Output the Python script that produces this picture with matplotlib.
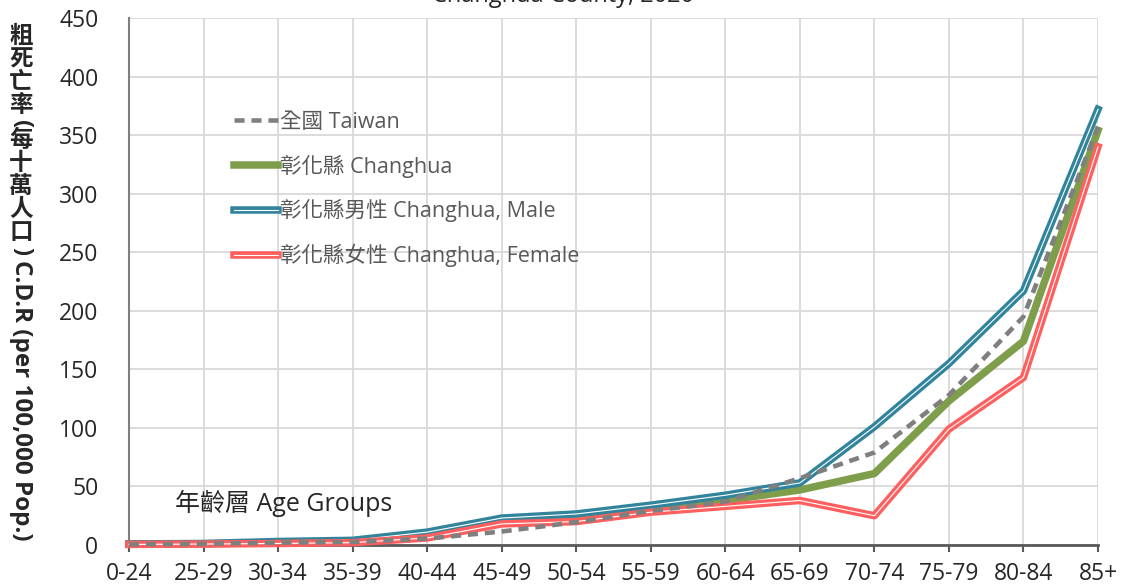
import numpy as np
import matplotlib
matplotlib.use('Agg')
import matplotlib.pyplot as plt
import matplotlib.patheffects as pe

plt.rcParams['font.family'] = ['Open Sans', 'Noto Sans CJK TC', 'DejaVu Sans']

# data
age_groups = ['0-24', '25-29', '30-34', '35-39', '40-44', '45-49', '50-54',
              '55-59', '60-64', '65-69', '70-74', '75-79', '80-84', '85+']
taiwan = [0.5, 1.0, 2.0, 2.5, 5.5, 11.5, 19.5, 29, 37, 57, 79, 128, 195, 357]
changhua = [0.7, 1.0, 2.0, 3.0, 7.5, 20, 23, 31, 38, 47, 61, 123, 174, 354]
male = [0.9, 1.3, 3.0, 4.0, 11, 23, 26.5, 34, 42.5, 53, 101, 155, 217, 372]
female = [0.5, 0.8, 1.3, 2.0, 6.0, 18, 20, 28, 33, 38, 25, 99, 143, 340]

labels = ['全國 Taiwan', '彰化縣 Changhua', '彰化縣男性 Changhua, Male', '彰化縣女性 Changhua, Female']
title = 'Changhua County, 2020'

W, H = 1125, 588
fig = plt.figure(figsize=(W / 100, H / 100), dpi=100)
ax = fig.add_axes([129 / W, 1 - 545 / H, (1098 - 129) / W, (545 - 18) / H])

x = np.arange(len(age_groups))

c_tw = '#7F7F7F'
c_ch = '#7F9E4B'
c_m = '#31849B'
c_f = '#FF5F5F'

l_ch, = ax.plot(x, changhua, color=c_ch, lw=5.4, zorder=3, clip_on=False, label=labels[1])
l_m, = ax.plot(x, male, color='white', lw=0.8, zorder=4, clip_on=False, label=labels[2],
               path_effects=[pe.Stroke(linewidth=5.4, foreground=c_m), pe.Normal()])
l_f, = ax.plot(x, female, color='white', lw=0.8, zorder=5, clip_on=False, label=labels[3],
               path_effects=[pe.Stroke(linewidth=5.4, foreground=c_f), pe.Normal()])
l_tw, = ax.plot(x, taiwan, color=c_tw, lw=3.3, dashes=(2.2, 1.5), zorder=6, clip_on=False, label=labels[0])

ax.set_xlim(0, len(age_groups) - 1)
ax.set_ylim(0, 450)
ax.set_xticks(x)
ax.set_xticklabels(age_groups)
ax.set_yticks(np.arange(0, 451, 50))

ax.grid(True, color='#D9D9D9', lw=1.3)
ax.set_axisbelow(True)
for s in ['top', 'right']:
    ax.spines[s].set_visible(False)
ax.spines['left'].set_color('#7F7F7F')
ax.spines['left'].set_linewidth(1.5)
ax.spines['bottom'].set_color('#595959')
ax.spines['bottom'].set_linewidth(2)

ax.tick_params(axis='x', direction='out', length=5, width=1.5, color='#595959',
               labelsize=16.5, labelcolor='#262626', pad=7)
ax.tick_params(axis='y', length=0, labelsize=16.5, labelcolor='#262626', pad=22)

leg = ax.legend(handles=[l_tw, l_ch, l_m, l_f], loc='upper left',
                bbox_to_anchor=((234 - 129) / 969, (545 - 112) / 527),
                frameon=False, fontsize=15.5, handlelength=2.05, handletextpad=0.1,
                labelspacing=1.0, borderpad=0, borderaxespad=0)
for t in leg.get_texts():
    t.set_color('#595959')

ax.text((175 - 129) / 969, (545 - 503) / 527, '年齡層 Age Groups', transform=ax.transAxes,
        fontsize=18, color='#262626', va='center', ha='left')

# title is cut off at the top edge in the reference
fig.text(0.5, 1 - 1.5 / H, title, ha='center', va='baseline', fontsize=17, color='#262626')

# vertical y label: CJK upright, latin rotated
ycur = 37
for ch in '粗死亡率(每十萬人口)':
    if ch in '()':
        fig.text(21 / W, 1 - (ycur - 5) / H, ch, rotation=-90, ha='center', va='center',
                 fontsize=17, fontweight='bold', color='#262626')
        ycur += 12
    else:
        fig.text(21 / W, 1 - ycur / H, ch, ha='center', va='center',
                 fontsize=17, fontweight='bold', color='#262626')
        ycur += 23
fig.text(21 / W, 1 - (ycur - 8) / H, 'C.D.R (per 100,000 Pop.)', rotation=-90,
         ha='center', va='top', fontsize=17.5, fontweight='bold', color='#262626')

fig.savefig('out.png', dpi=100)
